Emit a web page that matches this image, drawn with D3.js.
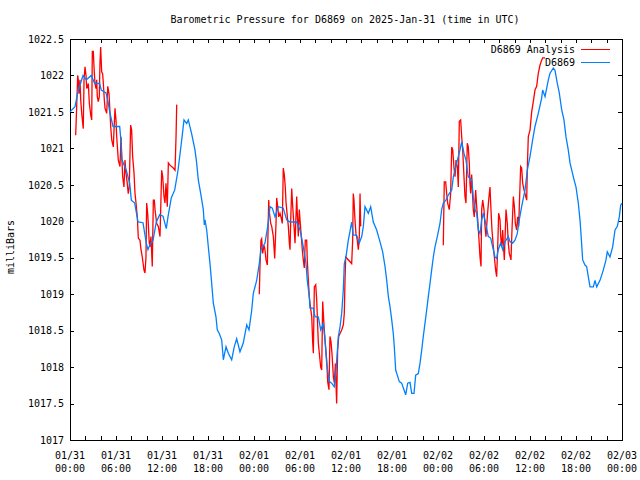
<!DOCTYPE html>
<html>
<head>
<meta charset="utf-8">
<script src="https://cdn.jsdelivr.net/npm/d3@7"></script>
<style>
  body { margin: 0; background: #fff; }
  svg { display: block; }
  text { font-family: "DejaVu Sans Mono", "Liberation Mono", monospace; font-size: 10px; fill: #000; }
</style>
</head>
<body>
<svg id="chart" width="640" height="480"></svg>
<script>
// ---------- DATA ----------
const chartTitle = "Barometric Pressure for D6869 on 2025-Jan-31 (time in UTC)";
const yTitle = "milliBars";
const seriesNames = ["D6869 Analysis", "D6869"];
const startTime = "2025-01-31T00:00:00Z";

// Observed series D6869: hours after start, pressure (mb)
const obsHours = [0,0.65,1.04,1.70,2.13,2.78,3.22,3.87,4.08,4.70,4.96,5.18,5.61,6.48,6.65,6.75,7.34,7.79,8.0,8.44,8.87,9.52,9.95,10.17,10.40,10.83,11.26,11.70,12.13,12.56,12.78,13.21,13.66,14.09,14.52,14.87,15.22,15.43,15.87,16.30,16.52,16.73,17.05,17.39,17.52,17.61,17.83,18.04,18.26,18.48,18.69,19.04,19.21,19.47,19.79,20.0,20.35,20.65,21.09,21.43,21.74,22.17,22.60,23.05,23.35,23.70,23.91,24.35,24.69,24.91,25.43,25.79,26.09,26.39,26.74,27.17,27.82,28.26,28.70,29.57,30.0,30.22,30.43,30.78,30.95,31.21,31.30,31.73,31.96,32.39,32.70,33.04,33.26,33.48,33.82,34.13,34.47,34.70,35.0,35.22,35.44,35.65,35.78,36.0,36.30,36.52,36.74,36.95,37.39,37.73,38.05,38.26,38.48,38.91,39.22,39.56,40.0,40.43,40.78,41.09,41.31,41.52,41.74,41.96,42.17,42.30,42.48,42.69,42.95,43.26,43.56,43.79,44.05,44.35,44.57,44.87,45.09,45.43,45.65,45.87,46.08,46.30,46.52,46.74,46.96,47.17,47.39,47.61,47.91,48.26,48.48,48.69,49.04,49.34,49.79,50.0,50.44,50.87,51.09,51.39,51.65,51.95,52.40,52.60,52.82,53.05,53.26,53.48,53.70,53.91,54.22,54.56,54.87,55.13,55.43,55.65,55.86,56.17,56.44,56.74,57.17,57.39,57.74,58.04,58.34,58.60,58.91,59.35,59.65,60.0,60.35,60.65,61.08,61.52,61.65,61.96,62.39,62.61,63.04,63.26,63.56,63.82,64.13,64.43,64.69,64.99,65.22,65.65,66.0,66.30,66.52,66.65,66.87,67.17,67.39,67.60,67.83,68.26,68.48,68.70,69.13,69.56,69.91,70.08,70.43,70.78,71.09,71.39,71.65,71.83,72.0];
const obsPressure = [1021.50,1021.57,1021.78,1022.00,1021.94,1022.00,1021.89,1021.89,1021.80,1021.76,1021.64,1021.50,1021.30,1021.30,1021.10,1020.85,1020.70,1020.52,1020.29,1020.25,1019.99,1019.98,1019.70,1019.61,1019.67,1019.74,1019.99,1020.09,1020.07,1019.90,1020.06,1020.32,1020.43,1020.70,1021.07,1021.39,1021.34,1021.39,1021.20,1020.98,1020.80,1020.57,1020.38,1020.16,1019.95,1020.02,1019.88,1019.65,1019.42,1019.15,1018.88,1018.69,1018.51,1018.46,1018.37,1018.10,1018.28,1018.19,1018.10,1018.28,1018.39,1018.21,1018.33,1018.58,1018.51,1018.78,1019.01,1019.19,1019.42,1019.61,1019.70,1019.93,1020.20,1020.18,1020.06,1020.20,1020.18,1020.02,1019.99,1019.99,1019.88,1019.77,1019.65,1019.42,1019.19,1018.97,1018.81,1018.81,1018.69,1018.69,1018.51,1018.60,1018.37,1018.05,1017.80,1017.78,1017.73,1017.96,1018.42,1018.55,1018.74,1019.06,1019.42,1019.51,1019.74,1019.86,1019.99,1019.81,1019.81,1019.70,1019.79,1019.93,1020.20,1020.11,1020.20,1019.99,1019.88,1019.72,1019.58,1019.38,1019.19,1018.97,1018.83,1018.65,1018.46,1018.28,1017.96,1017.89,1017.80,1017.78,1017.69,1017.62,1017.78,1017.79,1017.64,1017.64,1017.89,1017.91,1018.05,1018.23,1018.42,1018.60,1018.78,1018.97,1019.15,1019.33,1019.51,1019.65,1019.79,1019.97,1020.16,1020.25,1020.29,1020.36,1020.43,1020.61,1020.80,1020.98,1021.09,1020.93,1020.84,1020.61,1020.57,1020.34,1020.16,1020.11,1019.88,1019.83,1020.02,1020.11,1019.97,1019.79,1019.77,1019.65,1019.51,1019.49,1019.61,1019.70,1019.61,1019.72,1019.79,1019.72,1019.70,1019.74,1019.83,1020.02,1020.20,1020.43,1020.70,1020.89,1021.12,1021.30,1021.48,1021.69,1021.80,1021.71,1021.94,1022.03,1022.10,1022.07,1021.89,1021.76,1021.53,1021.39,1021.16,1020.98,1020.80,1020.61,1020.47,1020.25,1020.02,1019.83,1019.47,1019.40,1019.38,1019.24,1019.10,1019.10,1019.19,1019.10,1019.19,1019.33,1019.47,1019.58,1019.51,1019.65,1019.88,1019.93,1020.06,1020.22,1020.25];

// Analysis series D6869 Analysis (null = gap between analysis runs)
const anaHours = [0.74,0.87,1.0,1.08,1.17,1.30,1.40,1.53,1.66,1.73,1.83,1.96,2.09,2.18,2.39,2.52,2.70,2.83,2.91,3.04,3.13,3.26,3.39,3.48,3.56,3.69,3.82,3.91,4.0,4.13,4.26,4.35,4.48,4.57,4.79,4.92,5.09,5.22,5.31,5.44,5.65,5.74,5.87,6.0,6.09,6.30,6.52,6.65,6.74,6.87,7.04,7.17,7.30,7.47,7.60,7.73,7.91,8.04,8.17,8.35,8.48,8.61,8.78,8.91,9.13,9.26,9.43,9.65,9.78,9.91,10.0,10.13,10.21,10.34,10.43,10.56,10.73,10.87,11.0,11.09,11.31,11.52,11.74,11.96,12.09,12.26,12.39,12.52,12.69,12.83,13.04,13.47,13.70,13.83,13.92,
  null,
  24.69,24.78,24.91,25.0,25.13,25.30,25.43,25.57,25.74,25.83,25.92,26.0,26.18,26.31,26.52,26.70,26.87,26.96,27.09,27.22,27.39,27.56,27.69,27.82,27.95,28.08,28.17,28.35,28.48,28.61,28.70,28.79,28.92,29.05,29.22,29.35,29.57,29.65,29.78,29.91,30.0,30.17,30.30,30.43,30.56,30.69,30.87,30.95,31.09,31.21,31.30,31.53,31.66,31.74,31.87,32.05,32.18,32.26,32.39,32.52,32.70,32.83,32.96,33.04,33.17,33.30,33.48,33.61,33.78,33.91,34.04,34.17,34.35,34.48,34.61,34.78,34.91,35.05,35.22,35.44,35.65,35.78,35.87,35.96,36.74,36.87,36.95,37.04,37.17,37.30,37.47,37.61,37.74,37.83,37.92,
  null,
  48.69,48.82,49.0,49.13,49.26,49.47,49.65,49.79,49.92,50.09,50.22,50.35,50.52,50.65,50.78,50.96,51.09,51.22,51.39,51.52,51.65,51.82,51.95,52.08,52.17,52.26,52.39,52.52,52.60,52.73,52.91,53.05,53.18,53.35,53.48,53.61,53.70,53.83,54.0,54.13,54.26,54.43,54.61,54.78,54.91,55.04,55.22,55.35,55.52,55.65,55.78,55.91,56.09,56.18,56.31,56.44,56.52,56.65,56.87,57.04,57.17,57.30,57.52,57.65,57.83,57.96,58.09,58.26,58.39,58.52,58.78,58.91,59.05,59.22,59.35,59.57,59.65,59.78,60.0,60.22,60.43,60.65,60.87,61.08,61.30,61.52,61.65,61.96];
const anaPressure = [1021.18,1021.57,1022.00,1021.94,1021.75,1021.94,1021.66,1021.48,1021.34,1021.27,1021.94,1022.12,1022.00,1021.82,1021.89,1021.62,1021.46,1021.39,1022.33,1022.33,1022.12,1021.89,1021.82,1021.94,1021.71,1021.64,1021.71,1022.17,1022.39,1022.05,1022.02,1021.89,1021.66,1021.55,1021.48,1021.85,1021.75,1021.48,1021.30,1021.12,1021.02,1021.25,1021.55,1021.39,1021.16,1020.84,1020.75,1021.16,1020.93,1020.61,1020.47,1020.84,1020.66,1020.52,1020.38,1020.47,1021.32,1021.25,1020.89,1020.66,1020.38,1020.25,1020.06,1019.77,1019.74,1019.61,1019.51,1019.33,1019.29,1019.51,1020.25,1020.11,1019.97,1019.70,1019.65,1019.79,1019.38,1020.29,1020.29,1020.16,1019.97,1019.93,1019.79,1020.70,1020.61,1020.34,1020.25,1020.52,1020.20,1020.80,1020.77,1020.73,1020.70,1021.16,1021.60,
  null,
  1019.00,1019.38,1019.74,1019.76,1019.56,1019.67,1019.61,1019.47,1019.40,1019.86,1020.29,1020.13,1019.97,1019.93,1019.79,1019.49,1019.97,1020.32,1020.20,1020.06,1020.11,1020.04,1019.97,1020.73,1020.64,1020.47,1020.27,1020.06,1019.93,1019.70,1019.61,1020.02,1020.45,1020.20,1019.93,1019.70,1020.34,1020.11,1019.79,1020.16,1020.02,1019.79,1019.61,1019.47,1019.36,1019.74,1019.74,1019.47,1019.19,1018.97,1018.88,1018.69,1018.33,1018.19,1019.10,1019.13,1018.92,1018.69,1018.33,1018.19,1018.00,1017.96,1018.90,1018.74,1018.51,1018.33,1018.10,1017.80,1017.69,1018.42,1018.35,1018.19,1017.87,1017.78,1018.05,1017.50,1018.23,1018.42,1018.46,1018.51,1018.58,1018.74,1019.19,1019.51,1019.42,1019.74,1020.38,1020.29,1020.02,1019.83,1019.74,1019.61,1019.79,1020.38,1019.93,
  null,
  1019.67,1020.54,1020.54,1020.38,1020.25,1020.16,1020.38,1021.02,1020.98,1020.73,1020.61,1020.84,1020.75,1020.47,1021.37,1021.39,1021.16,1020.98,1020.61,1020.34,1020.25,1021.07,1021.02,1020.80,1020.52,1020.38,1020.64,1020.34,1020.16,1020.06,1020.43,1020.20,1020.02,1019.74,1019.51,1019.38,1020.16,1020.29,1020.16,1019.93,1019.79,1020.06,1020.29,1020.47,1020.16,1019.88,1019.65,1019.51,1019.33,1019.24,1019.61,1020.11,1020.02,1019.79,1019.65,1019.88,1019.70,1019.47,1020.16,1019.97,1019.70,1019.56,1019.47,1019.88,1020.34,1020.20,1019.97,1019.88,1020.06,1019.93,1020.75,1020.73,1020.52,1020.43,1020.38,1020.29,1020.73,1021.16,1021.25,1021.50,1021.64,1021.80,1021.85,1022.03,1022.14,1022.21,1022.24,1022.24];

const yTicks = [1017, 1017.5, 1018, 1018.5, 1019, 1019.5, 1020, 1020.5, 1021, 1021.5, 1022, 1022.5];
const yTickLabels = ["1017", "1017.5", "1018", "1018.5", "1019", "1019.5", "1020", "1020.5", "1021", "1021.5", "1022", "1022.5"];
const xTickHours = [0, 6, 12, 18, 24, 30, 36, 42, 48, 54, 60, 66, 72];
const xTickDates = ["01/31", "01/31", "01/31", "01/31", "02/01", "02/01", "02/01", "02/01", "02/02", "02/02", "02/02", "02/02", "02/03"];
const xTickTimes = ["00:00", "06:00", "12:00", "18:00", "00:00", "06:00", "12:00", "18:00", "00:00", "06:00", "12:00", "18:00", "00:00"];
const xMinorStep = 2; // hours

// ---------- DRAW ----------
const colors = { ana: "#ff0000", obs: "#0080ff" };
const svg = d3.select("#chart");
const L = 70, R = 622, T = 39, B = 440;
const t0 = new Date(startTime).getTime();
const toDate = h => new Date(t0 + h * 3600000);

const x = d3.scaleUtc().domain([toDate(0), toDate(72)]).range([L, R]);
const y = d3.scaleLinear().domain([1017, 1022.5]).range([B, T]);

const tickLen = 4;
const minorHours = d3.range(0, 72 + 0.001, xMinorStep);

const axB = d3.axisBottom(x).tickValues(minorHours.map(toDate)).tickSize(-tickLen).tickFormat("");
const axT = d3.axisTop(x).tickValues(minorHours.map(toDate)).tickSize(-tickLen).tickFormat("");
const axL = d3.axisLeft(y).tickValues(yTicks).tickSize(-tickLen).tickFormat((d, i) => yTickLabels[i]).tickPadding(6);
const axR = d3.axisRight(y).tickValues(yTicks).tickSize(-tickLen).tickFormat("");

function styleAxis(g) {
  g.select(".domain").remove();
  g.selectAll("line").attr("stroke", "#000").attr("shape-rendering", "crispEdges");
  g.selectAll("text").style("font-family", '"DejaVu Sans Mono", monospace').style("font-size", "10px").attr("fill", "#000");
}
svg.append("g").attr("transform", `translate(0,${B})`).call(axB).call(styleAxis);
svg.append("g").attr("transform", `translate(0,${T})`).call(axT).call(styleAxis);
svg.append("g").attr("transform", `translate(${L},0)`).call(axL).call(styleAxis);
svg.append("g").attr("transform", `translate(${R},0)`).call(axR).call(styleAxis);

const xl = svg.append("g");
xTickHours.forEach((h, i) => {
  const t = xl.append("text").attr("x", x(toDate(h))).attr("text-anchor", "middle");
  t.append("tspan").attr("x", x(toDate(h))).attr("y", 459).text(xTickDates[i]);
  t.append("tspan").attr("x", x(toDate(h))).attr("y", 472).text(xTickTimes[i]);
});

svg.append("rect").attr("x", L + 0.5).attr("y", T + 0.5).attr("width", R - L).attr("height", B - T)
  .attr("fill", "none").attr("stroke", "#000").attr("shape-rendering", "crispEdges");

const anaData = anaHours.map((h, i) => ({ h, p: anaPressure[i] }));
const obsData = obsHours.map((h, i) => ({ h, p: obsPressure[i] }));
const line = d3.line().defined(d => d.h !== null && d.p !== null)
  .x(d => x(toDate(d.h))).y(d => y(d.p));

svg.append("path").datum(anaData).attr("d", line).attr("fill", "none")
  .attr("stroke", colors.ana).attr("stroke-width", 1.3);
svg.append("path").datum(obsData).attr("d", line).attr("fill", "none")
  .attr("stroke", colors.obs).attr("stroke-width", 1.3);

svg.append("text").attr("x", 345).attr("y", 23).attr("text-anchor", "middle").text(chartTitle);
svg.append("text").attr("transform", "translate(14,247) rotate(-90)").attr("text-anchor", "middle").text(yTitle);

const leg = svg.append("g");
[[seriesNames[0], colors.ana, 49], [seriesNames[1], colors.obs, 62]].forEach(([name, c, yy]) => {
  leg.append("text").attr("x", 575).attr("y", yy + 4).attr("text-anchor", "end").text(name);
  leg.append("line").attr("x1", 581).attr("x2", 610).attr("y1", yy + 0.5).attr("y2", yy + 0.5)
    .attr("stroke", c).attr("stroke-width", 1).attr("shape-rendering", "crispEdges");
});
</script>
</body>
</html>
